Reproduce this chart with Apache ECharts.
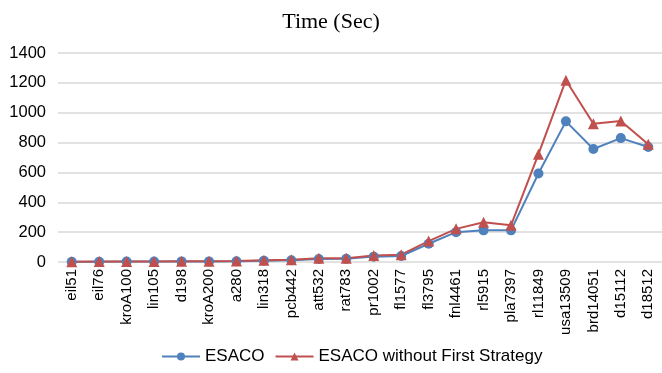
<!DOCTYPE html>
<html>
<head>
<meta charset="utf-8">
<script src="https://cdn.jsdelivr.net/npm/echarts@6/dist/echarts.min.js"></script>
<style>
  html, body { margin: 0; padding: 0; background: #fff; }
  #chart { width: 662px; height: 373px; }
</style>
</head>
<body>
<div id="chart"></div>
<script>
// TSP instances on the x axis
const instances = ['eil51', 'eil76', 'kroA100', 'lin105', 'd198', 'kroA200', 'a280', 'lin318',
  'pcb442', 'att532', 'rat783', 'pr1002', 'fl1577', 'fl3795', 'fnl4461', 'rl5915', 'pla7397',
  'rl11849', 'usa13509', 'brd14051', 'd15112', 'd18512'];

// Running time in seconds
const esaco = [1, 2, 3, 3, 4, 4, 5, 9, 12, 20, 21, 36, 40, 122, 200, 212, 212, 593, 942, 757, 830, 770];
const esacoNoFirst = [2, 3, 4, 4, 5, 5, 6, 12, 15, 25, 25, 43, 49, 140, 222, 266, 246, 722, 1218, 926, 945, 788];

const yTicks = { min: 0, max: 1400, step: 200 };

const chart = echarts.init(document.getElementById('chart'));
const sans = '"Liberation Sans", Arial, sans-serif';

chart.setOption({
  animation: false,
  backgroundColor: '#ffffff',
  title: {
    text: 'Time (Sec)',
    left: 'center',
    top: 6,
    textStyle: { fontFamily: '"Liberation Serif", "Times New Roman", serif', fontSize: 22, fontWeight: 'normal', color: '#000' }
  },
  legend: {
    bottom: 3,
    left: 156,
    itemWidth: 38,
    itemHeight: 10,
    itemGap: 10,
    textStyle: { fontFamily: sans, fontSize: 17, color: '#000' },
    data: ['ESACO', 'ESACO without First Strategy']
  },
  grid: { left: 58, right: 0, top: 53, bottom: 111, containLabel: false },
  xAxis: {
    type: 'category',
    data: instances,
    boundaryGap: true,
    axisLine: { show: false },
    axisTick: { show: false },
    axisLabel: { rotate: 90, interval: 0, margin: 7, fontFamily: sans, fontSize: 15, color: '#000' }
  },
  yAxis: {
    type: 'value',
    min: yTicks.min,
    max: yTicks.max,
    interval: yTicks.step,
    axisLine: { show: false },
    axisTick: { show: false },
    axisLabel: { margin: 12, fontFamily: sans, fontSize: 16.5, color: '#000', formatter: v => String(v) },
    splitLine: { lineStyle: { color: '#d9d9d9', width: 1.5 } }
  },
  series: [
    {
      name: 'ESACO',
      type: 'line',
      data: esaco,
      symbol: 'circle',
      symbolSize: 10,
      itemStyle: { color: '#4f81bd' },
      lineStyle: { color: '#4f81bd', width: 2 }
    },
    {
      name: 'ESACO without First Strategy',
      type: 'line',
      data: esacoNoFirst,
      symbol: 'triangle',
      symbolSize: 11,
      itemStyle: { color: '#c0504d' },
      lineStyle: { color: '#c0504d', width: 2 }
    }
  ]
});
</script>
</body>
</html>
